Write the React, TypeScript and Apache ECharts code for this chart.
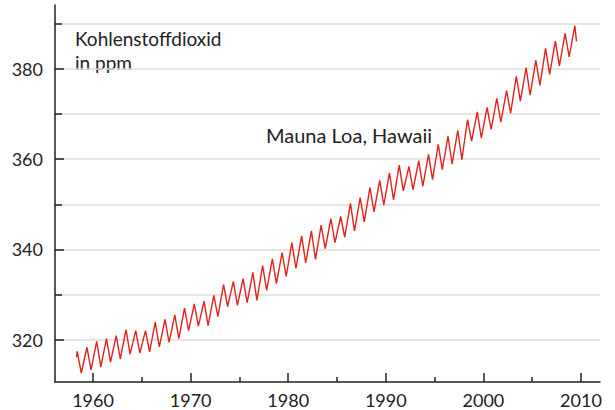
import React, { useEffect, useRef } from "react";
import * as echarts from "echarts";

// Mauna Loa CO2 (ppm): yearly maximum (around May) and minimum (around October)
const years = [
  1958, 1959, 1960, 1961, 1962, 1963, 1964, 1965, 1966, 1967, 1968, 1969, 1970,
  1971, 1972, 1973, 1974, 1975, 1976, 1977, 1978, 1979, 1980, 1981, 1982, 1983,
  1984, 1985, 1986, 1987, 1988, 1989, 1990, 1991, 1992, 1993, 1994, 1995, 1996,
  1997, 1998, 1999, 2000, 2001, 2002, 2003, 2004, 2005, 2006, 2007, 2008, 2009,
];
const peaks = [
  317.4, 318.3, 319.6, 320.2, 320.9, 322.2, 322.0, 322.0, 323.9, 324.5, 325.5,
  327.0, 327.9, 328.5, 329.8, 332.2, 332.9, 333.5, 334.9, 336.4, 337.9, 339.3,
  341.5, 343.0, 344.1, 345.4, 346.8, 347.3, 350.2, 351.5, 353.7, 355.3, 357.0,
  358.7, 358.4, 359.7, 361.1, 363.3, 365.1, 366.4, 368.8, 370.5, 371.5, 373.5,
  375.2, 378.4, 380.3, 382.0, 384.6, 386.2, 387.9, 389.6,
];
const troughs = [
  312.6, 313.3, 313.9, 315.0, 315.7, 316.8, 317.0, 317.3, 318.4, 319.4, 320.2,
  322.0, 323.0, 323.1, 325.1, 327.3, 327.6, 328.2, 328.7, 330.9, 332.4, 334.0,
  335.8, 337.0, 337.8, 340.2, 341.5, 342.7, 344.1, 346.1, 348.3, 349.8, 351.0,
  353.0, 353.2, 354.0, 355.5, 357.7, 358.9, 359.9, 364.0, 364.7, 366.6, 368.2,
  370.2, 372.9, 374.2, 376.4, 378.8, 380.7, 382.7,
];
const firstValue = 316.1; // first measurement, 1958
const lastValue = 386.1; // last measurement, 2009
const startMonth = 4;
const peakMonth = 5;
const troughMonth = 10;
const endMonth = 7;

const yMajorTicks = [320, 340, 360, 380];
const yMinorTicks = [330, 350, 370, 390];
const xMajorTicks = [1960, 1970, 1980, 1990, 2000, 2010];
const xMinorTicks = [1965, 1975, 1985, 1995, 2005];

const yLabel = ["Kohlenstoffdioxid", "in ppm"];
const seriesLabel = "Mauna Loa, Hawaii";

const FONT = "Lato";
const INK = "#222222";

function t(year: number, month: number) {
  return year + (month - 0.5) / 12;
}

function buildData() {
  const data: [number, number][] = [];
  data.push([t(years[0], startMonth), firstValue]);
  years.forEach((y, i) => {
    data.push([t(y, peakMonth), peaks[i]]);
    if (i < troughs.length) data.push([t(y, troughMonth), troughs[i]]);
  });
  data.push([t(years[years.length - 1], endMonth), lastValue]);
  return data;
}

export default function App() {
  const ref = useRef<HTMLDivElement>(null);
  useEffect(() => {
    if (!ref.current) return;
    const chart = echarts.init(ref.current, null, { renderer: "svg" });
    const xMin = 1956.1;
    const xMax = 2011.95;
    const yMin = 310.6;
    const yMax = 394.2;
    const axisLine = { show: true, lineStyle: { color: INK, width: 1.5 } };
    const gridLine = { show: true, lineStyle: { color: "#dddddd", width: 1.5 } };
    chart.setOption({
      animation: false,
      grid: { left: 55, right: 15, top: 5, bottom: 28, containLabel: false, outerBoundsMode: "none" },
      xAxis: [
        {
          type: "value",
          min: xMin,
          max: xMax,
          position: "bottom",
          axisLine,
          axisTick: { show: true, inside: true, length: 9, customValues: xMajorTicks, lineStyle: { color: INK, width: 1.5 } },
          axisLabel: {
            customValues: xMajorTicks,
            formatter: (v: number) => String(Math.round(v)),
            color: INK,
            fontSize: 18,
            fontFamily: FONT,
            margin: 9,
          },
          splitLine: { show: false },
        },
        {
          type: "value",
          min: xMin,
          max: xMax,
          position: "bottom",
          axisLine: { show: false },
          axisTick: { show: true, inside: true, length: 5, customValues: xMinorTicks, lineStyle: { color: INK, width: 1.5 } },
          axisLabel: { show: false },
          splitLine: { show: false },
        },
      ],
      yAxis: [
        {
          type: "value",
          min: yMin,
          max: yMax,
          position: "left",
          axisLine,
          axisTick: { show: true, inside: true, length: 9, customValues: yMajorTicks, lineStyle: { color: INK, width: 1.5 } },
          axisLabel: {
            customValues: yMajorTicks,
            formatter: (v: number) => String(Math.round(v)),
            color: INK,
            fontSize: 18,
            fontFamily: FONT,
            margin: 12,
          },
          splitLine: gridLine,
        },
        {
          type: "value",
          min: yMin,
          max: yMax,
          position: "left",
          axisLine: { show: false },
          axisTick: { show: true, inside: true, length: 7, customValues: yMinorTicks, lineStyle: { color: INK, width: 1.5 } },
          axisLabel: { show: false },
          splitLine: gridLine,
        },
      ],
      series: [
        {
          type: "line",
          xAxisIndex: 0,
          yAxisIndex: 0,
          data: buildData(),
          showSymbol: false,
          symbol: "none",
          lineStyle: { color: "#e2231a", width: 1.4 },
          z: 5,
        },
      ],
      graphic: [
        {
          type: "text",
          left: 75,
          top: 29,
          style: { text: yLabel[0], fill: INK, font: `19px ${FONT}`, lineHeight: 19 },
        },
        {
          type: "text",
          left: 75,
          top: 53,
          style: { text: yLabel[1], fill: INK, font: `19px ${FONT}`, lineHeight: 19 },
        },
        {
          type: "text",
          left: 266,
          top: 125,
          style: { text: seriesLabel, fill: INK, font: `20px ${FONT}` },
        },
      ],
    });
    return () => chart.dispose();
  }, []);
  return <div ref={ref} style={{ width: 615, height: 410, position: "absolute", left: 0, top: 0 }} />;
}
